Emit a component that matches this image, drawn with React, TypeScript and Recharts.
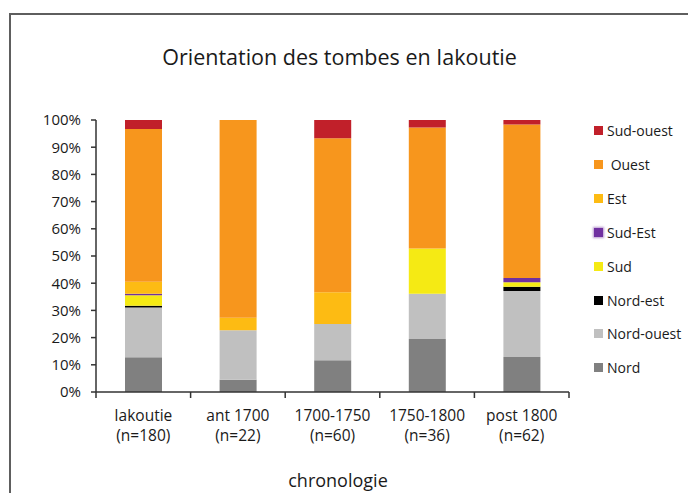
import { BarChart, Bar, XAxis, YAxis } from "recharts";

const categories = ["Iakoutie", "ant 1700", "1700-1750", "1750-1800", "post 1800"];
const sampleSizes = ["(n=180)", "(n=22)", "(n=60)", "(n=36)", "(n=62)"];

// tombs per orientation, stacked bottom -> top
const nord = [23, 1, 7, 7, 8];
const nordOuest = [33, 4, 8, 6, 15];
const nordEst = [1, 0, 0, 0, 1];
const sud = [7, 0, 0, 6, 1];
const sudEst = [1, 0, 0, 0, 1];
const est = [8, 1, 7, 0, 0];
const ouest = [101, 16, 34, 16, 35];
const sudOuest = [6, 0, 4, 1, 1];

const yTicks = [0, 0.1, 0.2, 0.3, 0.4, 0.5, 0.6, 0.7, 0.8, 0.9, 1];

const series = [
  { key: "nord", name: "Nord", values: nord, color: "#808080" },
  { key: "nordOuest", name: "Nord-ouest", values: nordOuest, color: "#c0c0c0" },
  { key: "nordEst", name: "Nord-est", values: nordEst, color: "#000000" },
  { key: "sud", name: "Sud", values: sud, color: "#f5ea14" },
  { key: "sudEst", name: "Sud-Est", values: sudEst, color: "#7030a0" },
  { key: "est", name: "Est", values: est, color: "#fdbb13" },
  { key: "ouest", name: " Ouest", values: ouest, color: "#f7961d" },
  { key: "sudOuest", name: "Sud-ouest", values: sudOuest, color: "#c1202a" },
];

const data = categories.map((category, i) => {
  const row: Record<string, string | number> = { category, n: sampleSizes[i] };
  series.forEach((s) => {
    row[s.key] = s.values[i];
  });
  return row;
});

const FONT = "'Open Sans', sans-serif";
const TEXT = "#1a1a1a";
const AXIS = "#333";
const PLOT_LEFT = 96;
const PLOT_RIGHT = 569;
const BAND = (PLOT_RIGHT - PLOT_LEFT) / categories.length;

const CategoryTick = (props: any) => {
  const { x, y, payload, index } = props;
  const axisY = y - 2;
  return (
    <g>
      <line x1={x - BAND / 2} x2={x - BAND / 2} y1={axisY} y2={axisY + 6} stroke={AXIS} strokeWidth={1.5} />
      {index === categories.length - 1 && (
        <line x1={x + BAND / 2} x2={x + BAND / 2} y1={axisY} y2={axisY + 6} stroke={AXIS} strokeWidth={1.5} />
      )}
      <text x={x} y={axisY} textAnchor="middle" fill={TEXT} fontFamily={FONT} fontSize={15.5}>
        <tspan x={x} dy={29}>{payload.value}</tspan>
        <tspan x={x} dy={20}>{sampleSizes[index]}</tspan>
      </text>
    </g>
  );
};

const LegendList = () => (
  <div
    style={{
      position: "absolute",
      left: 594,
      top: 114,
      fontFamily: FONT,
      fontSize: 14,
      color: TEXT,
    }}
  >
    {[...series].reverse().map((s) => (
      <div key={s.key} style={{ display: "flex", alignItems: "center", height: 33.85, whiteSpace: "pre" }}>
        <span
          style={{
            display: "inline-block",
            width: 9,
            height: 9,
            marginRight: 4,
            background: s.color,
            boxShadow: s.key === "sudEst" ? "0 0 2px 1px rgba(112,48,160,0.5)" : undefined,
          }}
        />
        {s.name}
      </div>
    ))}
  </div>
);

export default function App() {
  return (
    <div style={{ position: "absolute", left: 0, top: 0, width: 688, height: 493, background: "#fff", overflow: "hidden" }}>
      <div
        style={{
          position: "absolute",
          left: 9,
          top: 13,
          width: 720,
          height: 520,
          borderLeft: "2px solid #5e5e5e",
          borderTop: "2px solid #5e5e5e",
        }}
      />
      <div
        style={{
          position: "absolute",
          left: 0,
          width: 679,
          top: 42,
          textAlign: "center",
          fontFamily: FONT,
          fontSize: 21.5,
          color: TEXT,
        }}
      >
        Orientation des tombes en Iakoutie
      </div>
      <div
        style={{
          position: "absolute",
          left: 0,
          width: 676,
          top: 468,
          textAlign: "center",
          fontFamily: FONT,
          fontSize: 18,
          color: TEXT,
        }}
      >
        chronologie
      </div>
      <BarChart
        width={688}
        height={493}
        data={data}
        stackOffset="expand"
        barSize={37}
        margin={{ top: 120, right: 688 - PLOT_RIGHT, bottom: 41, left: 0 }}
        style={{ position: "absolute", left: 0, top: 0 }}
      >
        <XAxis
          dataKey="category"
          height={60}
          interval={0}
          tickLine={false}
          tickSize={0}
          tick={<CategoryTick />}
          axisLine={{ stroke: AXIS, strokeWidth: 1.5 }}
        />
        <YAxis
          width={PLOT_LEFT}
          domain={[0, 1]}
          ticks={yTicks}
          tickFormatter={(v: number) => `${Math.round(v * 100)}%`}
          tick={{ fill: TEXT, fontFamily: FONT, fontSize: 15 }}
          tickSize={5}
          tickMargin={10}
          tickLine={{ stroke: AXIS, strokeWidth: 1.5 }}
          axisLine={{ stroke: AXIS, strokeWidth: 1.5 }}
        />
        {series.map((s) => (
          <Bar key={s.key} dataKey={s.key} name={s.name} stackId="a" fill={s.color} isAnimationActive={false} />
        ))}
      </BarChart>
      <LegendList />
    </div>
  );
}
